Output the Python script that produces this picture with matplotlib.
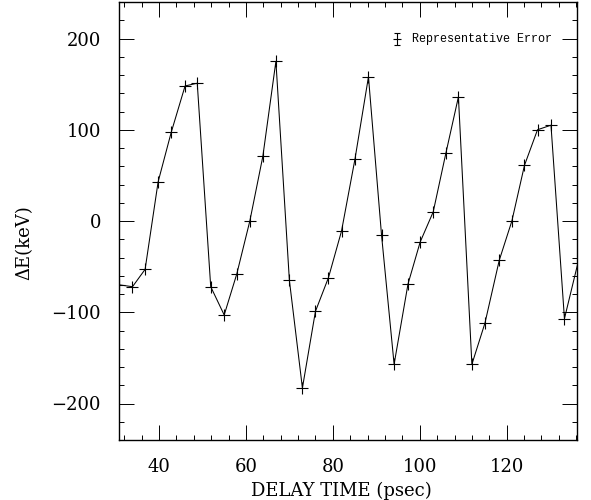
import matplotlib
matplotlib.use('Agg')
import matplotlib.pyplot as plt
from matplotlib.ticker import MultipleLocator, FuncFormatter

# delay time (psec) and energy shift (keV)
delay = [30.9, 33.9, 36.8, 39.8, 42.8, 46.0, 48.8, 51.9, 55.0, 57.9, 60.9,
         63.9, 66.9, 70.0, 73.0, 76.0, 79.0, 82.0, 85.1, 88.2, 91.2, 94.1,
         97.3, 100.1, 103.1, 106.0, 108.9, 112.0, 115.0, 118.3, 121.2, 124.1,
         127.1, 130.2, 133.3, 136.4]
dE = [-70, -72, -53, 43, 97, 148, 151, -72, -103, -58, 0,
      71, 175, -65, -183, -99, -62, -11, 68, 158, -15, -157,
      -69, -23, 10, 74, 136, -157, -112, -43, 0, 61,
      100, 105, -107, -46]

# representative error bar shown in the corner
rep_x = 94.7
rep_y = 199
rep_err = 6.5

plt.rcParams['font.family'] = 'DejaVu Serif'

fig = plt.figure(figsize=(5.91, 5.0), dpi=100)
ax = fig.add_axes([0.2014, 0.12, 0.775, 0.876])

ax.plot(delay, dE, color='black', lw=0.75, marker='+', ms=8, mew=0.8)

ax.errorbar([rep_x], [rep_y], yerr=rep_err, fmt='_', color='black',
            ms=6, mew=0.8, elinewidth=0.8, capsize=2.5, capthick=0.8)
ax.text(rep_x + 3.5, rep_y, 'Representative Error', family='Liberation Mono',
        fontsize=8.5, va='center', ha='left')

ax.set_xlim(30.8, 136.2)
ax.set_ylim(-240, 240)

ax.xaxis.set_major_locator(MultipleLocator(20))
ax.xaxis.set_minor_locator(MultipleLocator(4))
ax.yaxis.set_major_locator(MultipleLocator(100))
ax.yaxis.set_minor_locator(MultipleLocator(20))
ax.yaxis.set_major_formatter(FuncFormatter(lambda v, p: ('\u2212' + f'{-v:.0f}') if v < 0 else f'{v:.0f}'))

ax.tick_params(which='both', direction='in', top=True, right=True,
               labelsize=13, width=0.7)
ax.tick_params(which='major', length=11, pad=13)
ax.tick_params(which='minor', length=3.5)
ax.tick_params(axis='x', which='major', pad=13)

for s in ax.spines.values():
    s.set_linewidth(1.0)

ax.set_xlabel('DELAY TIME (psec)', fontsize=13)
ax.set_ylabel('\u0394E(keV)', fontsize=13)
ax.xaxis.set_label_coords(0.486, -0.096)
ax.yaxis.set_label_coords(-0.188, 0.45)

fig.savefig('out.png', dpi=100)
